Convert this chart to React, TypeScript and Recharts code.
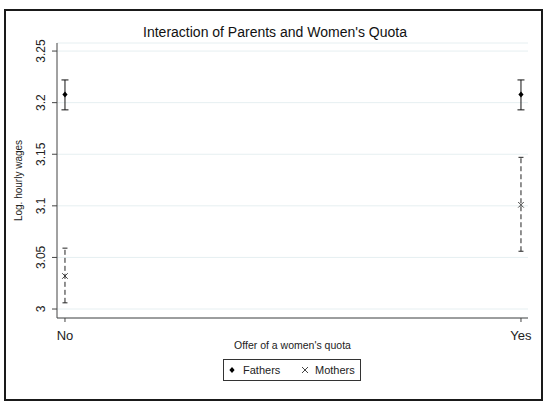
import { ScatterChart, Scatter, XAxis, YAxis, CartesianGrid, ErrorBar } from "recharts";

const categories = ["No", "Yes"];
const fathersMean = [3.208, 3.208];
const fathersLow = [3.193, 3.193];
const fathersHigh = [3.222, 3.222];
const mothersMean = [3.032, 3.101];
const mothersLow = [3.006, 3.056];
const mothersHigh = [3.059, 3.147];
const yTicks = [3, 3.05, 3.1, 3.15, 3.2, 3.25];

const fathersData = categories.map((c, i) => ({
  x: i,
  y: fathersMean[i],
  err: [fathersMean[i] - fathersLow[i], fathersHigh[i] - fathersMean[i]],
}));

const mothersData = categories.map((c, i) => ({
  x: i,
  y: mothersMean[i],
  err: [mothersMean[i] - mothersLow[i], mothersHigh[i] - mothersMean[i]],
}));

const Diamond = (props: any) => {
  const { cx, cy } = props;
  return <path d={`M${cx},${cy - 3}L${cx + 2.6},${cy}L${cx},${cy + 3}L${cx - 2.6},${cy}Z`} fill="#000" />;
};

const Cross = (props: any) => {
  const { cx, cy } = props;
  const s = 2.8;
  return (
    <path
      d={`M${cx - s},${cy - s}L${cx + s},${cy + s}M${cx - s},${cy + s}L${cx + s},${cy - s}`}
      stroke="#333"
      strokeWidth={0.9}
      fill="none"
    />
  );
};

const YTick = (props: any) => {
  const { y, payload } = props;
  return (
    <text
      x={45}
      y={y}
      transform={`rotate(-90, 45, ${y})`}
      textAnchor="middle"
      fontSize={12}
      fill="#222"
    >
      {payload.value}
    </text>
  );
};

const XTick = (props: any) => {
  const { x, y, payload } = props;
  return (
    <text x={x} y={y + 16} textAnchor="middle" fontSize={13} fill="#222">
      {categories[payload.value]}
    </text>
  );
};

export default function App() {
  return (
    <div
      style={{
        position: "absolute",
        left: 0,
        top: 0,
        width: 550,
        height: 410,
        background: "#fff",
        fontFamily: "Arial, 'Liberation Sans', sans-serif",
      }}
    >
      <div
        style={{
          position: "absolute",
          left: 4,
          top: 9,
          width: 539,
          height: 392,
          boxSizing: "border-box",
          border: "2px solid #1a1a1a",
        }}
      />
      <div
        style={{
          position: "absolute",
          left: 0,
          top: 24,
          width: 550,
          textAlign: "center",
          fontSize: 14,
          color: "#111",
        }}
      >
        Interaction of Parents and Women's Quota
      </div>
      <div style={{ position: "absolute", left: 0, top: 0 }}>
        <ScatterChart width={550} height={410} margin={{ top: 43, right: 22, bottom: 62, left: 0 }}>
          <CartesianGrid horizontal vertical={false} stroke="#e6eff1" />
          <XAxis
            type="number"
            dataKey="x"
            domain={[-0.0175, 1.0154]}
            ticks={[0, 1]}
            allowDataOverflow
            height={30}
            stroke="#444"
            tickSize={4}
            tick={<XTick />}
          />
          <YAxis
            type="number"
            dataKey="y"
            domain={[2.9913, 3.2578]}
            ticks={yTicks}
            allowDataOverflow
            width={57}
            stroke="#444"
            tickSize={5}
            tick={<YTick />}
            label={(p: any) => {
              const vb = p.viewBox;
              const cy = vb.y + vb.height / 2;
              return (
                <text x={22} y={cy} transform={`rotate(-90, 22, ${cy})`} textAnchor="middle" fontSize={10} fill="#222">
                  Log. hourly wages
                </text>
              );
            }}
          />
          <Scatter data={fathersData} shape={<Diamond />} isAnimationActive={false}>
            <ErrorBar dataKey="err" direction="y" width={3.5} stroke="#111" strokeWidth={1} isAnimationActive={false} />
          </Scatter>
          <Scatter data={mothersData} shape={<Cross />} isAnimationActive={false}>
            <ErrorBar
              dataKey="err"
              direction="y"
              width={2.5}
              stroke="#222"
              strokeWidth={1}
              strokeDasharray="5 3"
              isAnimationActive={false}
            />
          </Scatter>
        </ScatterChart>
      </div>
      <div
        style={{
          position: "absolute",
          left: 0,
          top: 339,
          width: 585,
          textAlign: "center",
          fontSize: 10.5,
          color: "#222",
        }}
      >
        Offer of a women's quota
      </div>
      <div
        style={{
          position: "absolute",
          left: 223,
          top: 359,
          width: 138,
          height: 22,
          boxSizing: "border-box",
          border: "1px solid #333",
          fontSize: 11,
          color: "#222",
        }}
      >
        <svg width={8} height={8} style={{ position: "absolute", left: 4, top: 6 }}>
          <path d="M4,1L6.6,4L4,7L1.4,4Z" fill="#000" />
        </svg>
        <span style={{ position: "absolute", left: 19, top: 4 }}>Fathers</span>
        <svg width={8} height={8} style={{ position: "absolute", left: 77, top: 6 }}>
          <path d="M1,1L7,7M1,7L7,1" stroke="#444" strokeWidth={1} />
        </svg>
        <span style={{ position: "absolute", left: 91, top: 4 }}>Mothers</span>
      </div>
    </div>
  );
}
